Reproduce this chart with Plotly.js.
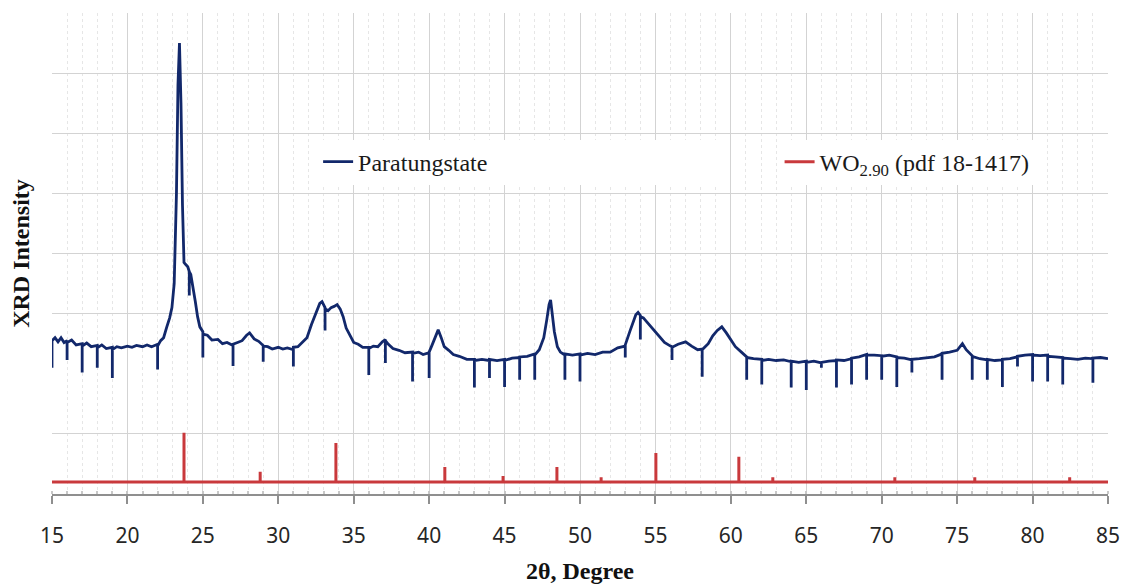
<!DOCTYPE html>
<html>
<head>
<meta charset="utf-8">
<script src="https://cdn.plot.ly/plotly-3.0.1.min.js"></script>
<style>html,body{margin:0;padding:0;background:#fff;}#chart{width:1126px;height:588px;}</style>
</head>
<body>
<div id="chart"></div>
<script>
// Measured XRD scan of paratungstate (2θ in degrees, intensity in arbitrary units)
const scanAngle = [
  15.0,15.0,15.2,15.4,15.6,15.8,16.0,16.0,16.0,16.3,16.6,17.0,17.0,17.0,17.3,17.6,18.0,18.0,18.0,18.3,18.6,19.0,19.0,19.0,
  19.3,19.6,20.0,20.3,20.6,21.0,21.3,21.6,22.0,22.0,22.0,22.2,22.4,22.6,22.8,22.95,23.1,23.25,23.35,23.45,23.55,23.65,23.75,23.85,
  24.0,24.1,24.1,24.1,24.2,24.35,24.5,24.65,24.8,25.0,25.0,25.0,25.3,25.6,26.0,26.3,26.6,27.0,27.0,27.0,27.3,27.6,27.9,28.1,
  28.4,28.7,29.0,29.0,29.0,29.3,29.6,30.0,30.3,30.6,31.0,31.0,31.0,31.3,31.6,31.9,32.2,32.5,32.75,32.9,33.1,33.1,33.1,33.3,
  33.5,33.7,33.9,34.1,34.3,34.5,34.8,35.0,35.3,35.6,36.0,36.0,36.0,36.3,36.6,36.9,37.1,37.1,37.1,37.3,37.6,38.0,38.4,38.9,
  38.9,38.9,39.3,39.6,40.0,40.0,40.0,40.2,40.4,40.6,40.8,41.0,41.3,41.6,42.0,42.5,43.0,43.0,43.0,43.5,44.0,44.0,44.0,44.5,
  45.0,45.0,45.0,45.5,46.0,46.0,46.0,46.5,47.0,47.0,47.0,47.3,47.6,47.8,47.95,48.05,48.15,48.3,48.5,48.7,49.0,49.0,49.0,49.5,
  50.0,50.0,50.0,50.5,51.0,51.5,52.0,52.5,53.0,53.0,53.0,53.3,53.5,53.7,53.85,54.0,54.0,54.0,54.2,54.5,54.8,55.0,55.3,55.6,
  56.0,56.1,56.1,56.1,56.5,57.0,57.4,57.8,58.1,58.1,58.1,58.5,58.8,59.1,59.4,59.7,60.0,60.3,60.7,61.05,61.05,61.05,61.5,62.05,
  62.05,62.05,62.5,63.0,63.5,64.0,64.0,64.0,64.5,65.0,65.0,65.0,65.5,66.0,66.0,66.0,66.5,67.0,67.0,67.0,67.5,68.0,68.0,68.0,
  68.5,69.0,69.0,69.0,69.5,70.0,70.0,70.0,70.5,71.0,71.0,71.0,71.5,72.0,72.0,72.0,72.5,73.0,73.5,74.0,74.0,74.0,74.5,75.0,
  75.35,75.6,76.0,76.0,76.0,76.5,77.0,77.0,77.0,77.5,78.0,78.0,78.0,78.5,79.0,79.0,79.0,79.5,80.0,80.0,80.0,80.5,81.0,81.0,
  81.0,81.5,82.0,82.0,82.0,82.5,83.0,83.5,84.0,84.0,84.0,84.5,85.0
];
const scanIntensity = [
  2.10,2.55,2.60,2.53,2.60,2.52,2.55,2.23,2.52,2.56,2.48,2.50,2.02,2.46,2.51,2.45,2.47,2.10,2.43,2.48,2.42,2.44,1.93,2.40,
  2.45,2.43,2.46,2.44,2.47,2.45,2.48,2.45,2.49,2.07,2.46,2.55,2.60,2.77,2.93,3.10,3.50,5.00,6.80,7.50,6.50,4.80,3.85,3.82,
  3.78,3.70,3.30,3.70,3.65,3.45,3.20,2.95,2.78,2.70,2.27,2.66,2.64,2.56,2.57,2.50,2.52,2.47,2.13,2.49,2.52,2.55,2.64,2.68,
  2.58,2.54,2.47,2.20,2.46,2.45,2.41,2.44,2.41,2.43,2.40,2.12,2.44,2.45,2.52,2.60,2.82,3.00,3.17,3.20,3.10,2.72,3.08,3.05,
  3.10,3.12,3.15,3.08,2.95,2.76,2.61,2.52,2.49,2.44,2.44,1.98,2.42,2.46,2.45,2.53,2.57,2.18,2.55,2.49,2.42,2.39,2.35,2.36,
  1.87,2.34,2.36,2.32,2.35,1.93,2.36,2.48,2.62,2.73,2.60,2.45,2.39,2.32,2.29,2.24,2.24,1.77,2.22,2.24,2.22,1.93,2.24,2.22,
  2.24,1.78,2.22,2.26,2.27,1.90,2.28,2.29,2.33,1.90,2.31,2.40,2.60,2.90,3.15,3.23,3.00,2.70,2.45,2.36,2.31,1.90,2.33,2.31,
  2.33,1.87,2.31,2.34,2.32,2.36,2.36,2.43,2.46,2.27,2.48,2.70,2.86,2.98,3.02,2.97,2.57,2.95,2.93,2.84,2.76,2.69,2.61,2.52,
  2.46,2.45,2.23,2.44,2.49,2.53,2.46,2.40,2.41,1.95,2.40,2.50,2.63,2.72,2.78,2.68,2.57,2.45,2.36,2.28,1.90,2.27,2.25,2.24,
  1.82,2.22,2.24,2.22,2.23,2.20,1.77,2.21,2.19,2.21,1.73,2.19,2.21,2.18,2.10,2.19,2.21,2.22,1.77,2.23,2.22,2.25,1.82,2.26,
  2.28,2.32,1.90,2.31,2.31,2.30,1.90,2.29,2.31,2.28,1.78,2.27,2.26,2.23,2.02,2.24,2.25,2.26,2.28,2.33,1.90,2.34,2.36,2.39,
  2.50,2.40,2.30,1.90,2.29,2.25,2.23,1.90,2.24,2.22,2.23,1.78,2.24,2.25,2.28,2.12,2.29,2.31,2.32,1.87,2.31,2.30,2.31,1.87,
  2.29,2.28,2.27,1.82,2.26,2.25,2.24,2.26,2.25,1.85,2.26,2.27,2.25
];

// WO2.90 reference pattern (pdf 18-1417): stick positions and heights
const refAngle = [23.75, 28.8, 33.82, 41.04, 44.9, 48.47, 51.4, 55.03, 60.53, 62.78, 70.87, 76.17, 82.46];
const refIntensity = [1.02, 0.37, 0.85, 0.45, 0.30, 0.45, 0.28, 0.68, 0.62, 0.28, 0.28, 0.28, 0.28];
const refBaseline = 0.2;
const angleRange = [15, 85];

const seriesNames = ['Paratungstate', 'WO<sub>2.90</sub> (pdf 18-1417)'];
const xTickVals = [15,20,25,30,35,40,45,50,55,60,65,70,75,80,85];
const yGridVals = [1,3,4,5,6,7,8];

// build stick trace from the reference arrays
const refX = [angleRange[0]], refY = [refBaseline];
refAngle.forEach((a, i) => { refX.push(a, a, a); refY.push(refBaseline, refIntensity[i], refBaseline); });
refX.push(angleRange[1]); refY.push(refBaseline);

const traces = [
  {x: scanAngle, y: scanIntensity, type: 'scatter', mode: 'lines', name: seriesNames[0], legend: 'legend',
   line: {color: '#12286b', width: 2.8}},
  {x: refX, y: refY, type: 'scatter', mode: 'lines', name: seriesNames[1], legend: 'legend2',
   line: {color: '#c9393c', width: 3}}
];

const serif = 'Liberation Serif, Times New Roman, serif';
const legendFont = {family: serif, size: 24, color: '#1a1a1a'};
const layout = {
  width: 1126, height: 588,
  margin: {l: 52, r: 18, t: 13, b: 94},
  paper_bgcolor: '#ffffff', plot_bgcolor: '#ffffff',
  showlegend: true,
  legend: {orientation: 'h', x: 0.252, xanchor: 'left', y: 0.69, yanchor: 'middle',
           bgcolor: '#ffffff', borderwidth: 0, entrywidth: 360, font: legendFont},
  legend2: {orientation: 'h', x: 0.689, xanchor: 'left', y: 0.69, yanchor: 'middle',
           bgcolor: '#ffffff', borderwidth: 0, font: legendFont},
  xaxis: {
    range: angleRange, tickvals: xTickVals, ticktext: xTickVals.map(String),
    showgrid: true, gridcolor: '#d3d3d3', gridwidth: 1,
    minor: {dtick: 1, showgrid: true, gridcolor: '#e6e6e6', griddash: 'dot', ticks: 'inside', ticklen: 3, tickcolor: '#c8c8c8'},
    showline: true, linecolor: '#8f8f8f', linewidth: 2,
    ticks: 'outside', ticklen: 8, tickwidth: 2, tickcolor: '#8f8f8f',
    ticklabelstandoff: 14,
    zeroline: false,
    tickfont: {family: 'Noto Sans, Open Sans, sans-serif', size: 21, color: '#262626'},
    title: {text: '2θ, Degree', standoff: 14,
            font: {family: serif, size: 24, color: '#111111', weight: 'bold'}}
  },
  yaxis: {
    range: [0, 8], tickvals: yGridVals, showticklabels: false,
    showgrid: true, gridcolor: '#d3d3d3', gridwidth: 1,
    zeroline: false, showline: false, ticks: '',
    title: {text: 'XRD Intensity', standoff: 14,
            font: {family: serif, size: 24, color: '#111111', weight: 'bold'}}
  }
};

Plotly.newPlot('chart', traces, layout, {displayModeBar: false, staticPlot: true});
</script>
</body>
</html>
